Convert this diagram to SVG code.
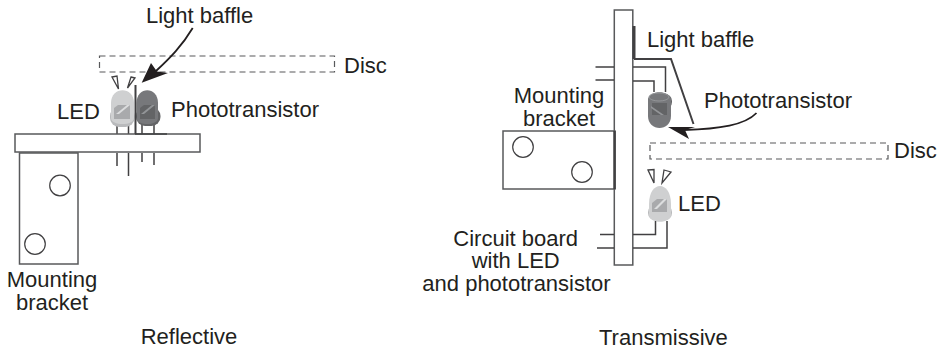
<svg xmlns="http://www.w3.org/2000/svg" width="944" height="350" viewBox="0 0 944 350">
<style>
text{font-family:"Liberation Sans",Arial,sans-serif;font-size:22px;fill:#231f20}
.m{text-anchor:middle}
.box{fill:#fff;stroke:#58595b;stroke-width:1.5}
.disc{fill:none;stroke:#58595b;stroke-width:1.2;stroke-dasharray:6 4}
.pin{fill:none;stroke:#414042;stroke-width:1.5}
.hole{fill:#fff;stroke:#414042;stroke-width:1.2}
.tri{fill:#fff;stroke:#414042;stroke-width:1.3}
.baf{fill:none;stroke:#414042}
.arrow{fill:none;stroke:#231f20;stroke-width:1.8}
.head{fill:#231f20}
.l1{fill:#cfd0d1}.l2{fill:#b9babc}.l3{fill:#a9aaac}.l4{fill:#dcddde}
.p1{fill:#77787b}.p2{fill:#6d6e71}.p3{fill:#636466}.p4{fill:#939598}
</style>
<g id="reflective-pins-top"><path class="pin" d="M117 124V134M128.500 124V134M142 124V134M154 124V134"/></g>
<g id="reflective-led">
<rect class="l2" x="110" y="107" width="24.500" height="20" rx="9"/>
<path class="l1" d="M111 118V103C111 86 134 86 134 103V118C134 126 111 126 111 118Z"/>
<path class="l3" d="M114 119V108L118 105H130V119Z"/>
<path class="l4" d="M116 114L127 105H130L119 114Z"/>
<path class="tri" d="M112 77L117 76L118.500 89Z"/>
<path class="tri" d="M131 77L135 78L127.500 88Z"/>
</g>
<g id="reflective-phototransistor">
<rect class="p3" x="136" y="107" width="24.500" height="19" rx="9"/>
<path class="p1" d="M136.500 118V103C136.500 86 158 86 158 103V118C158 126 136.500 126 136.500 118Z"/>
<path class="p3" d="M140 119V108L144 105H155V119Z"/>
<path class="p4" d="M141 114L152 105H155L144 114Z"/>
</g>
<g id="reflective-disc"><rect class="disc" x="99.500" y="56" width="235" height="16"/></g>
<g id="reflective-board"><rect class="box" x="15" y="134" width="185" height="18"/></g>
<g id="reflective-bracket">
<rect class="box" x="19.500" y="153" width="58.500" height="111"/>
<circle class="hole" cx="60" cy="185.500" r="10.300"/>
<circle class="hole" cx="35" cy="244" r="10.300"/>
</g>
<g id="reflective-baffle"><path class="baf" stroke-width="2" d="M135.500 85V134"/><path class="pin" d="M135 134H167"/></g>

<g id="transmissive-board"><rect class="box" x="614.300" y="10" width="18.500" height="255"/></g>
<g id="transmissive-bracket">
<rect class="box" x="503" y="131" width="112" height="58"/>
<path class="baf" stroke="#58595b" stroke-width="2.500" d="M614.500 131V189"/>
<circle class="hole" cx="523" cy="147" r="10.300"/>
<circle class="hole" cx="582" cy="172" r="10.300"/>
</g>
<g id="transmissive-disc"><rect class="disc" x="650" y="143" width="238" height="16"/></g>
<g id="transmissive-phototransistor">
<rect class="p3" x="648" y="94" width="24" height="15" rx="7"/>
<path class="p1" d="M648 99C650 90 669 90 671 99V116C671 132 648 132 648 116Z"/>
<path class="p3" d="M652 103H667V115H652Z"/>
<path class="p4" d="M651 106L664 115L661 115L651 108Z"/>
<ellipse cx="659" cy="97" rx="10" ry="4" fill="none" stroke="#939598"/>
</g>
<g id="transmissive-led">
<rect class="l2" x="648" y="205" width="24" height="15" rx="7"/>
<path class="l1" d="M649 215V204C649 180 671 180 671 204V215C671 224 649 224 649 215Z"/>
<path class="l3" d="M652 212V203L657 199H667V212Z"/>
<path class="l4" d="M654 209L664 199H667L657 209Z"/>
<path class="tri" d="M648 170L654 169.500L654 183Z"/>
<path class="tri" d="M664 170L671 172L662 183Z"/>
</g>
<g id="connectors">
<path class="pin" d="M117 153V166M128.500 153V176M142 153V162M154 153V165"/>
<path class="arrow" d="M192.700 28C182 46 170 58 156 71"/>
<path class="head" d="M141.700 82.700L151 63L157 71.500L168 73Z"/>
<path class="pin" d="M595.500 67H614M595.500 80H614M633 67H665.500V92M633 81H654V92"/>
<path class="pin" d="M600 234.500H614M597 248H614M633 234.500H655.500V221M633 248H667V221"/>
<path class="baf" stroke-width="3" d="M634 26V59"/>
<path class="baf" stroke-width="2" d="M634 59H671L693.500 124"/>
<path class="arrow" d="M756.500 113C745 125 720 129 684 130"/>
<path class="head" d="M668 127L695 127L685 130L689 139Z"/>
</g>
<g id="labels">
<text x="146" y="22.700">Light baffle</text>
<text x="344" y="72.700">Disc</text>
<text x="57" y="118.500">LED</text>
<text x="171" y="116.700">Phototransistor</text>
<text class="m" x="52" y="286.500">Mounting</text>
<text class="m" x="52" y="309.500">bracket</text>
<text class="m" x="189" y="344">Reflective</text>
<text x="647" y="47.300">Light baffle</text>
<text x="704" y="107.700">Phototransistor</text>
<text class="m" x="559" y="103">Mounting</text>
<text class="m" x="559" y="126">bracket</text>
<text x="894" y="158">Disc</text>
<text x="678" y="210.700">LED</text>
<text class="m" x="515.700" y="245.500">Circuit board</text>
<text class="m" x="515.700" y="268.300">with LED</text>
<text class="m" x="516.500" y="291.200">and phototransistor</text>
<text x="599" y="345">Transmissive</text>
</g>
</svg>
